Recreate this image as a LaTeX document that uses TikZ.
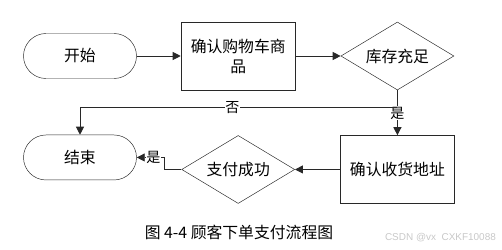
\documentclass[tikz,border=0pt]{standalone}
\usepackage{fontspec}
\setmainfont{Noto Sans CJK SC}
\newfontfamily\wmfont{Liberation Sans}
\usepackage{tikz}
\usetikzlibrary{positioning,arrows.meta,shapes,calc}
\usepackage{xcolor}
\definecolor{LineGray}{RGB}{40,40,40}
\definecolor{MarkGray}{RGB}{200,200,200}

\begin{document}
\begin{tikzpicture}[
    term/.style={rectangle, draw=LineGray, fill=white, rounded corners=0.675cm,
                 minimum width=3.39cm, minimum height=1.35cm,
                 align=center, font=\fontsize{13.5}{17}\selectfont},
    pstep/.style={rectangle, draw=LineGray, fill=white,
                  minimum width=3.42cm, minimum height=2.04cm,
                  text width=3.2cm, align=center, font=\fontsize{13.5}{17}\selectfont},
    decide/.style={diamond, draw=LineGray, fill=white, inner sep=0pt,
                   minimum width=3.39cm, minimum height=2.04cm, aspect=1.66,
                   align=center, font=\fontsize{13.5}{17}\selectfont},
    lbl/.style={fill=white, inner sep=0.5pt, font=\fontsize{12}{14}\selectfont},
    arrow/.style={-{Triangle[length=2.4mm,width=2.4mm]}, line width=0.8pt, draw=LineGray}
]
    \useasboundingbox (0,0) rectangle (15.06,-7.47);

    \node[term] (start) at (2.4,-1.68) {开始};
    \node[pstep, right=1.32cm of start] (cart) {确认购物车商\\品};
    \node[decide, right=1.35cm of cart] (stock) {库存充足};
    \node[pstep, below=1.35cm of stock] (addr) {确认收货地址};
    \node[decide, left=1.35cm of addr] (pay) {支付成功};
    \node[term, below=1.68cm of start] (end) {结束};

    \coordinate (split) at ($(stock.south)+(0,-0.51)$);

    \draw[arrow] (start) -- (cart);
    \draw[arrow] (cart) -- (stock);
    \draw[arrow] (stock.south) -- node[lbl, pos=0.51] {是} (addr.north);
    \draw[arrow] (split) -| node[lbl, pos=0.26] {否} (end.north);
    \draw[arrow] (addr) -- (pay);
    \draw[arrow] (pay.west) -- ++(-0.51,0) |- node[lbl, pos=0.7] {是} (end.east);

    \node[font=\fontsize{13.5}{17}\selectfont] (cap) at (7.17,-6.96) {图 4-4 顾客下单支付流程图};
    \node[font=\wmfont\fontsize{8.5}{10}\selectfont, text=MarkGray, anchor=east] (mark) at (15.0,-7.12) {CSDN @vx\ \ CXKF10088};
\end{tikzpicture}
\end{document}
